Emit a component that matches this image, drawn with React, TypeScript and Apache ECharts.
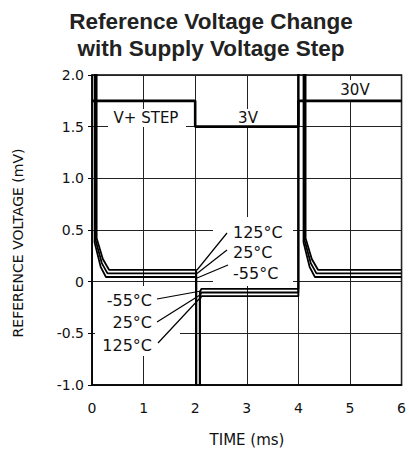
import React, { useEffect, useRef } from "react";
import * as echarts from "echarts";

const TITLE = "Reference Voltage Change\nwith Supply Voltage Step";
const X_NAME = "TIME (ms)";
const Y_NAME = "REFERENCE VOLTAGE (mV)";
const STEP_LABELS = ["V+ STEP", "3V", "30V"];
const TEMP_LABELS = ["125°C", "25°C", "-55°C"];

// supply step trace (ms, mV-equivalent position)
const supplyStep: [number, number][] = [
  [0, 1.75], [2, 1.75], [2, 1.5], [4, 1.5], [4, 1.75], [6, 1.75],
];

// reference voltage change traces (ms, mV)
const ref125: [number, number][] = [
  [0.09, 2.3], [0.09, 0.42], [0.21, 0.22], [0.33, 0.115], [2.02, 0.115],
  [2.02, -1.3], [2.09, -1.3], [2.09, -0.17], [2.12, -0.14], [4.0, -0.14],
  [4.0, 2.3], [4.14, 2.3], [4.14, 0.42], [4.26, 0.22], [4.38, 0.115], [6, 0.115],
];
const ref25: [number, number][] = [
  [0.07, 2.3], [0.07, 0.4], [0.19, 0.18], [0.3, 0.08], [2.02, 0.08],
  [2.02, -1.3], [2.09, -1.3], [2.09, -0.135], [2.12, -0.105], [4.0, -0.105],
  [4.0, 2.3], [4.12, 2.3], [4.12, 0.4], [4.24, 0.18], [4.35, 0.08], [6, 0.08],
];
const refM55: [number, number][] = [
  [0.05, 2.3], [0.05, 0.38], [0.17, 0.14], [0.27, 0.045], [2.02, 0.045],
  [2.02, -1.3], [2.09, -1.3], [2.09, -0.1], [2.12, -0.07], [4.0, -0.07],
  [4.0, 2.3], [4.1, 2.3], [4.1, 0.38], [4.22, 0.14], [4.32, 0.045], [6, 0.045],
];

const FONT = "DejaVu Sans";
const INK = "#111";

export default function App() {
  const ref = useRef<HTMLDivElement>(null);
  useEffect(() => {
    if (!ref.current) return;
    const chart = echarts.init(ref.current, undefined, { renderer: "svg" });
    const lineSeries = (name: string, data: [number, number][], w: number) => ({
      name,
      type: "line",
      data,
      showSymbol: false,
      symbol: "none",
      clip: true,
      z: 5,
      lineStyle: { color: "#000", width: w },
    });
    const txt = (text: string, x: number, y: number, size: number, align = "center") => ({
      type: "text",
      x,
      y,
      z: 10,
      style: {
        text,
        fill: INK,
        font: `${size}px '${FONT}'`,
        align,
        verticalAlign: "middle",
      },
    });
    const seg = (x1: number, y1: number, x2: number, y2: number) => ({
      type: "line",
      z: 10,
      shape: { x1, y1, x2, y2 },
      style: { stroke: "#000", lineWidth: 1.2 },
    });
    const box = (x: number, y: number, width: number, height: number) => ({
      type: "rect",
      z: 1,
      shape: { x, y, width, height },
      style: { fill: "#fff" },
    });
    chart.setOption({
      animation: false,
      backgroundColor: "#fff",
      title: {
        text: TITLE,
        left: 206,
        textAlign: "center",
        top: 3,
        textStyle: {
          fontFamily: "Liberation Sans, Arial, sans-serif",
          fontWeight: "bold",
          fontSize: 22.5,
          lineHeight: 27,
          color: "#222",
        },
      },
      grid: {
        left: 92,
        right: 7,
        top: 75,
        bottom: 76,
        show: true,
        borderColor: "#000",
        borderWidth: 1.5,
        backgroundColor: "transparent",
      },
      xAxis: {
        type: "value",
        min: 0,
        max: 6,
        interval: 1,
        axisLine: { show: true, onZero: false, lineStyle: { color: "#000", width: 1.5 } },
        axisTick: { show: false },
        splitLine: { show: true, lineStyle: { color: "#222", width: 1 } },
        axisLabel: { margin: 16, color: INK, fontFamily: FONT, fontSize: 14 },
      },
      yAxis: {
        type: "value",
        min: -1,
        max: 2,
        interval: 0.5,
        axisLine: { show: true, onZero: false, lineStyle: { color: "#000", width: 1.5 } },
        axisTick: { show: true, length: 4, lineStyle: { color: "#000" } },
        splitLine: { show: true, lineStyle: { color: "#222", width: 1 } },
        axisLabel: {
          margin: 8,
          color: INK,
          fontFamily: FONT,
          fontSize: 14,
          formatter: (v: number) => (v === 0 ? "0" : v.toFixed(1)),
        },
      },
      series: [
        lineSeries("V+ step", supplyStep, 2.6),
        lineSeries(TEMP_LABELS[0], ref125, 1.8),
        lineSeries(TEMP_LABELS[1], ref25, 1.8),
        lineSeries(TEMP_LABELS[2], refM55, 1.8),
      ],
      graphic: [
        box(213, 217, 80, 69),
        box(95, 286, 85, 70),
        box(108, 109, 78, 18),
        box(232, 109, 32, 18),
        box(336, 80, 38, 20),
        txt(STEP_LABELS[0], 146, 118, 15),
        txt(STEP_LABELS[1], 248, 118, 15),
        txt(STEP_LABELS[2], 355, 90, 15),
        txt(TEMP_LABELS[0], 233, 232, 16, "left"),
        txt(TEMP_LABELS[1], 233, 252, 16, "left"),
        txt(TEMP_LABELS[2], 233, 273, 16, "left"),
        txt(TEMP_LABELS[2], 152, 300, 16, "right"),
        txt(TEMP_LABELS[1], 152, 322, 16, "right"),
        txt(TEMP_LABELS[0], 152, 345, 16, "right"),
        seg(227, 233, 197, 270),
        seg(227, 250, 197, 273.5),
        seg(228, 265, 197, 278),
        seg(157, 299, 201, 291),
        seg(157, 322, 200, 295),
        seg(158, 343, 200, 298),
        {
          type: "text",
          x: 18,
          y: 243,
          rotation: Math.PI / 2,
          z: 10,
          style: {
            text: Y_NAME,
            fill: INK,
            font: `14px '${FONT}'`,
            align: "center",
            verticalAlign: "middle",
          },
        },
        txt(X_NAME, 247, 440, 15),
      ],
    });
    return () => chart.dispose();
  }, []);
  return (
    <div
      ref={ref}
      style={{ position: "fixed", left: 0, top: 0, width: 409, height: 461, background: "#fff" }}
    />
  );
}
